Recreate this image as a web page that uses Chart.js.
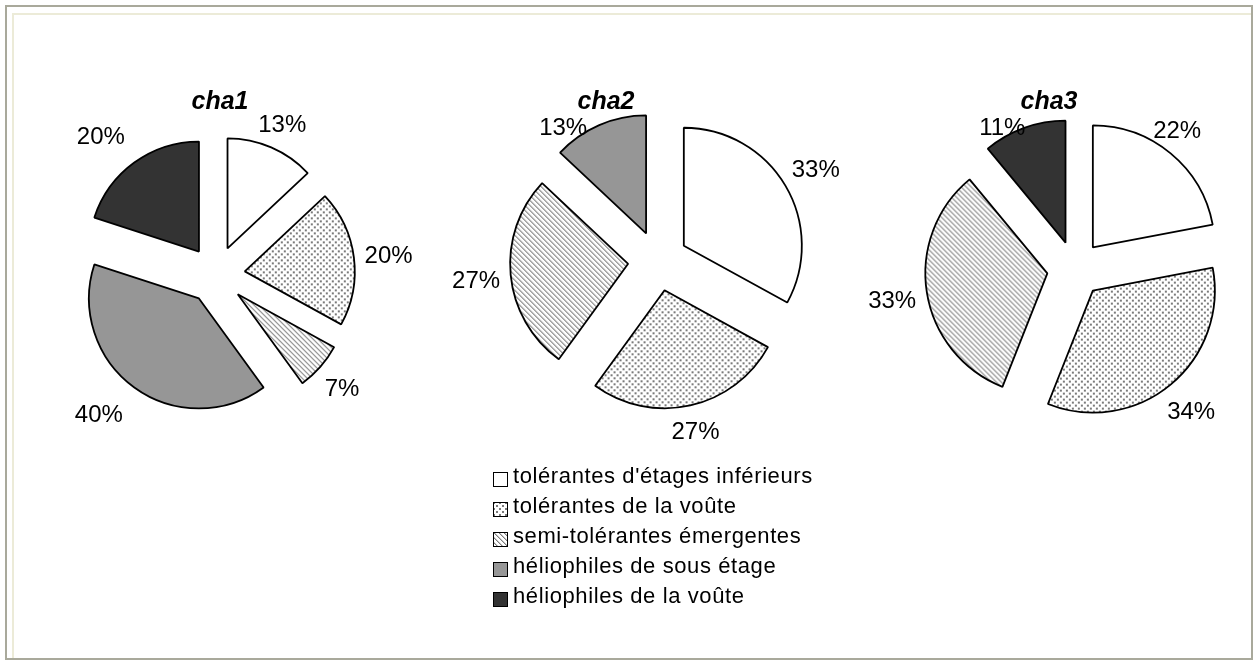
<!DOCTYPE html>
<html>
<head>
<meta charset="utf-8">
<script src="https://cdn.jsdelivr.net/npm/chart.js@4.4.1/dist/chart.umd.min.js"></script>
<style>
  html, body { margin: 0; padding: 0; background: #fff; overflow: hidden; }
  body { width: 1253px; height: 660px; position: relative; font-family: "Liberation Sans", Arial, sans-serif; }
  #frame { position: absolute; left: 5px; top: 5px; width: 1244px; height: 651px; border: 2px solid #a9a99b; }
  #inner { position: absolute; left: 12px; top: 13px; width: 1237px; height: 643px;
           border-left: 2px solid #ecebd8; border-top: 2px solid #ecebd8; }
  canvas.pie { position: absolute; }
  .title { position: absolute; width: 200px; text-align: center; top: 85px;
           font: italic bold 25px "Liberation Sans", Arial, sans-serif; line-height: 30px; }
  .swatch { position: absolute; left: 493px; }
  .legend-text { position: absolute; left: 513px; font-size: 22px; line-height: 30px;
                 letter-spacing: 0.6px; white-space: nowrap; color: #000; }
</style>
</head>
<body>
<div id="frame"></div>
<div id="inner"></div>
<div id="charts"></div>
<div id="legend"></div>

<script>
const categories = [
  "tolérantes d'étages inférieurs",
  "tolérantes de la voûte",
  "semi-tolérantes émergentes",
  "héliophiles de sous étage",
  "héliophiles de la voûte",
];
const chartNames = ["cha1", "cha2", "cha3"];
const cha1Values = [13, 20, 7, 40, 20];
const cha2Values = [33, 27, 27, 13, 0];
const cha3Values = [22, 34, 33, 0, 11];
const seriesValues = [cha1Values, cha2Values, cha3Values];

// where each pie sits on the page (center, radius, explosion, title center)
// labelNudge: hand moves of a few labels, as in the original figure
const pieLayout = [
  { cx: 216, cy: 275, r: 110, explode: 29, titleX: 220, labelNudge: { 3: [-17, 0], 4: [-15, -3] } },
  { cx: 658, cy: 261, r: 118, explode: 30, titleX: 606, labelNudge: { 3: [-25, 0] } },
  { cx: 1075, cy: 269, r: 122, explode: 28, titleX: 1049, labelNudge: { 0: [-14, 0], 4: [-13, 0] } },
];
const SIZE = 420;
const LABEL_GAP = 10;
const LABEL_H = 18;
const LABEL_DROP = 3;
const TITLE_HALF_W = 35;
const TITLE_BOTTOM = 114; // labels are kept below the titles

function dotTile() {
  const c = document.createElement("canvas");
  c.width = 6;
  c.height = 6;
  const g = c.getContext("2d");
  g.fillStyle = "#fff";
  g.fillRect(0, 0, 6, 6);
  g.fillStyle = "#7a7a7a";
  g.fillRect(0, 0, 2, 2);
  g.fillRect(3, 3, 2, 2);
  return c;
}

function hatchTile() {
  const c = document.createElement("canvas");
  c.width = 5;
  c.height = 5;
  const g = c.getContext("2d");
  g.fillStyle = "#fff";
  g.fillRect(0, 0, 5, 5);
  for (let i = 0; i < 5; i++) {
    g.fillStyle = "#7e7e7e";
    g.fillRect(i, i, 1, 1);
    g.fillStyle = "#c6c6c6";
    g.fillRect((i + 1) % 5, i, 1, 1);
  }
  return c;
}

function makeFills(ctx) {
  return [
    "#ffffff",
    ctx.createPattern(dotTile(), "repeat"),
    ctx.createPattern(hatchTile(), "repeat"),
    "#969696",
    "#333333",
  ];
}

// pull every slice away from the center along its bisector
function explodePlugin(dist) {
  return {
    id: "explode",
    beforeDatasetDraw(chart, args) {
      const ctx = chart.ctx;
      args.meta.data.forEach((arc) => {
        if (!arc.circumference) return;
        const mid = (arc.startAngle + arc.endAngle) / 2;
        ctx.save();
        ctx.translate(Math.cos(mid) * dist, Math.sin(mid) * dist);
        arc.draw(ctx, chart.chartArea);
        ctx.restore();
      });
      return false;
    },
  };
}

// percentage labels outside each slice, pushed below the title if they would hit it
function labelPlugin(pos) {
  return {
    id: "pctLabels",
    afterDraw(chart) {
      const ctx = chart.ctx;
      const meta = chart.getDatasetMeta(0);
      const values = chart.data.datasets[0].data;
      const offX = pos.cx - SIZE / 2;
      const offY = pos.cy - SIZE / 2;
      ctx.save();
      ctx.font = '24px "Liberation Sans", Arial, sans-serif';
      ctx.fillStyle = "#000";
      ctx.textAlign = "center";
      ctx.textBaseline = "middle";
      meta.data.forEach((arc, i) => {
        if (!values[i]) return;
        const text = values[i] + "%";
        const w = ctx.measureText(text).width;
        const mid = (arc.startAngle + arc.endAngle) / 2;
        const dx = Math.cos(mid);
        const dy = Math.sin(mid);
        const d = pos.explode + arc.outerRadius + LABEL_GAP +
          Math.abs(dx) * w / 2 + Math.abs(dy) * LABEL_H / 2;
        let x = arc.x + dx * d;
        let y = arc.y + dy * d + LABEL_DROP;
        const top = y + offY - LABEL_H / 2;
        const hitsTitle = Math.abs(x + offX - pos.titleX) < TITLE_HALF_W + w / 2 && top < TITLE_BOTTOM;
        if (hitsTitle) y = TITLE_BOTTOM + 5 + LABEL_H / 2 - offY;
        const nudge = pos.labelNudge[i];
        if (nudge) {
          x += nudge[0];
          y += nudge[1];
        }
        ctx.fillText(text, x, y);
      });
      ctx.restore();
    },
  };
}

const chartsDiv = document.getElementById("charts");

chartNames.forEach((name, k) => {
  const pos = pieLayout[k];

  const canvas = document.createElement("canvas");
  canvas.className = "pie";
  canvas.width = SIZE;
  canvas.height = SIZE;
  canvas.style.left = pos.cx - SIZE / 2 + "px";
  canvas.style.top = pos.cy - SIZE / 2 + "px";
  chartsDiv.appendChild(canvas);

  const title = document.createElement("div");
  title.className = "title";
  title.style.left = pos.titleX - 100 + "px";
  title.textContent = name;
  chartsDiv.appendChild(title);

  const ctx = canvas.getContext("2d");
  new Chart(ctx, {
    type: "pie",
    data: {
      labels: categories,
      datasets: [
        {
          data: seriesValues[k],
          backgroundColor: makeFills(ctx),
          borderColor: "#000",
          borderWidth: 1.8,
          radius: pos.r,
        },
      ],
    },
    options: {
      responsive: false,
      animation: false,
      events: [],
      layout: { padding: 0 },
      plugins: {
        legend: { display: false },
        tooltip: { enabled: false },
      },
    },
    plugins: [explodePlugin(pos.explode), labelPlugin(pos)],
  });
});

// legend shared by the three pies
const legendDiv = document.getElementById("legend");
categories.forEach((label, i) => {
  const sw = document.createElement("canvas");
  sw.className = "swatch";
  sw.width = 15;
  sw.height = 15;
  sw.style.top = 472 + 30 * i + "px";
  const g = sw.getContext("2d");
  g.fillStyle = makeFills(g)[i];
  g.fillRect(0, 0, 15, 15);
  g.strokeStyle = "#000";
  g.lineWidth = 1;
  g.strokeRect(0.5, 0.5, 14, 14);
  legendDiv.appendChild(sw);

  const txt = document.createElement("div");
  txt.className = "legend-text";
  txt.style.top = 461 + 30 * i + "px";
  txt.textContent = label;
  legendDiv.appendChild(txt);
});
</script>
</body>
</html>
